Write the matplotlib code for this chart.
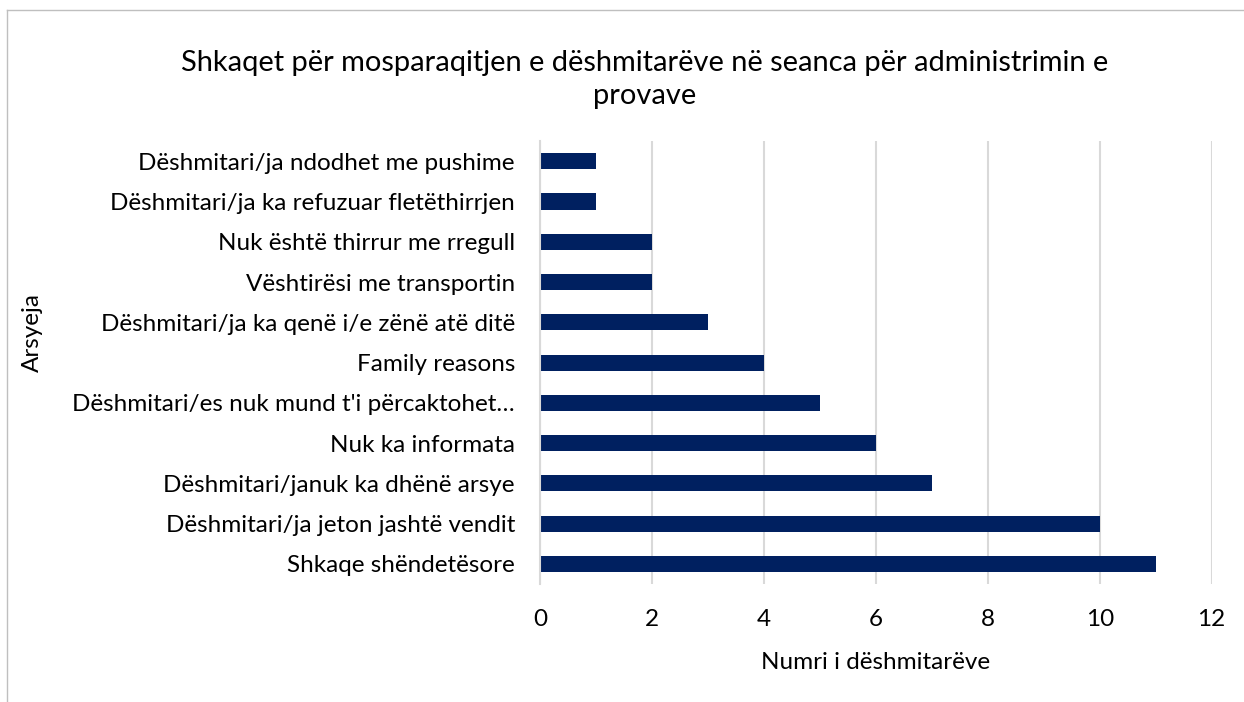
import matplotlib
matplotlib.use("Agg")
import matplotlib.pyplot as plt
from matplotlib.lines import Line2D

plt.rcParams["font.family"] = ["Lato", "DejaVu Sans"]

# Data (bottom to top as drawn)
reasons = [
    "Shkaqe shëndetësore",
    "Dëshmitari/ja jeton jashtë vendit",
    "Dëshmitari/januk ka dhënë arsye",
    "Nuk ka informata",
    "Dëshmitari/es nuk mund t'i përcaktohet…",
    "Family reasons",
    "Dëshmitari/ja ka qenë i/e zënë atë ditë",
    "Vështirësi me transportin",
    "Nuk është thirrur me rregull",
    "Dëshmitari/ja ka refuzuar fletëthirrjen",
    "Dëshmitari/ja ndodhet me pushime",
]
counts = [11, 10, 7, 6, 5, 4, 3, 2, 2, 1, 1]
x_ticks = [0, 2, 4, 6, 8, 10, 12]

fig = plt.figure(figsize=(12.44, 7.02), dpi=100)
ax = fig.add_axes([0.434, 0.168, 0.540, 0.631])

ax.barh(range(len(reasons)), counts, height=0.4, color="#002060")
ax.set_yticks(range(len(reasons)))
ax.set_yticklabels(reasons, fontsize=17.5)
ax.set_ylim(-0.5, len(reasons) - 0.5)
ax.set_xlim(0, 12)
ax.set_xticks(x_ticks)
ax.set_xticklabels([str(t) for t in x_ticks], fontsize=17.5)
ax.tick_params(length=0)
ax.tick_params(axis="x", pad=18)
ax.tick_params(axis="y", pad=18)
ax.grid(axis="x", color="#d9d9d9", linewidth=1.5)
ax.set_axisbelow(True)
for s in ["top", "right", "bottom"]:
    ax.spines[s].set_visible(False)
ax.spines["left"].set_color("#d9d9d9")
ax.spines["left"].set_linewidth(1.5)

ax.set_xlabel("Numri i dëshmitarëve", fontsize=17.5, labelpad=16)
fig.text(0.026, 0.527, "Arsyeja", rotation=90, fontsize=17.5, ha="center", va="center")

fig.text(0.518, 0.887, "Shkaqet për mosparaqitjen e dëshmitarëve në seanca për administrimin e\nprovave",
         fontsize=20.9, ha="center", va="center", linespacing=1.33)

# chart frame (left and top edges visible)
fig.add_artist(Line2D([0.0056, 0.0056], [0.0, 0.986], color="#bfbfbf", linewidth=1))
fig.add_artist(Line2D([0.0056, 1.0], [0.986, 0.986], color="#bfbfbf", linewidth=1))

fig.savefig("out.png", dpi=100)
